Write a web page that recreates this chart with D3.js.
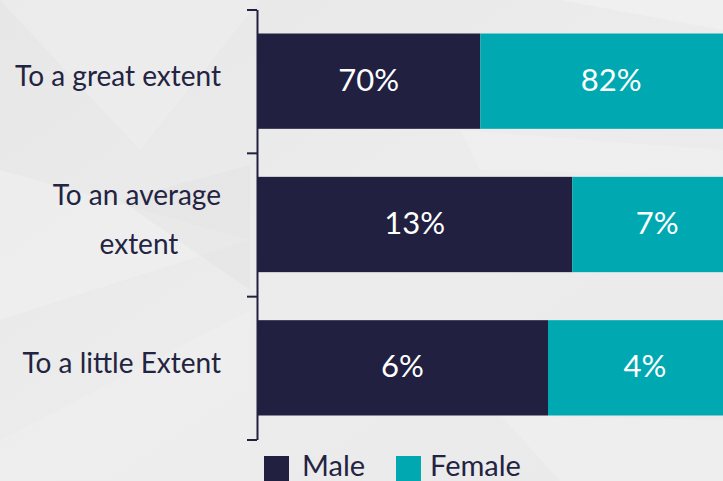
<!DOCTYPE html>
<html><head><meta charset="utf-8">
<script src="https://cdn.jsdelivr.net/npm/d3@7"></script>
<style>html,body{margin:0;padding:0;overflow:hidden;background:#ebebeb}</style>
</head><body><svg id="c" width="723" height="481"></svg>
<script>
const categories = ["To a great extent", "To an average extent", "To a little Extent"];
const categoryLines = [["To a great extent"], ["To an average", "extent"], ["To a little Extent"]];
const seriesNames = ["Male", "Female"];
const male = [70, 13, 6];
const female = [82, 7, 4];
const colors = ["#212041", "#00a9b2"];

const svg = d3.select("#c");
const W = 723, H = 481;

// background
const defs = svg.append("defs");
const g1 = defs.append("linearGradient").attr("id","bg").attr("x1",0).attr("y1",0).attr("x2",1).attr("y2",1);
g1.append("stop").attr("offset","0").attr("stop-color","#e7e7e7");
g1.append("stop").attr("offset","0.5").attr("stop-color","#ececec");
g1.append("stop").attr("offset","1").attr("stop-color","#eaeaea");
svg.append("rect").attr("width",W).attr("height",H).attr("fill","url(#bg)");
const shards = [
  {p:[[0,0],[260,0],[140,150]], f:"#efefef", o:0.6},
  {p:[[0,170],[250,240],[0,320]], f:"#f1f1f1", o:0.5},
  {p:[[120,200],[250,165],[250,290]], f:"#e2e2e2", o:0.4},
  {p:[[0,440],[250,310],[250,481],[0,481]], f:"#efefef", o:0.5},
  {p:[[560,0],[723,0],[723,30]], f:"#f4f4f4", o:0.6},
  {p:[[460,130],[723,150],[723,175],[480,170]], f:"#f1f1f1", o:0.5},
  {p:[[500,415],[723,420],[723,481],[560,481]], f:"#f1f1f1", o:0.5}
];
svg.append("g").selectAll("polygon").data(shards).join("polygon")
  .attr("points", d => d.p.map(q => q.join(",")).join(" "))
  .attr("fill", d => d.f).attr("opacity", d => d.o);

const x0 = 257, totalW = 485;
const x = d3.scaleLinear().domain([0, 1]).range([x0, x0 + totalW]);
const y = d3.scaleBand().domain(categories).range([9.5, 439.5]).paddingInner(0.335).paddingOuter(0.1675);

const data = categories.map((c, i) => {
  const t = male[i] + female[i];
  return [
    {cat: c, s: 0, v: male[i], a: 0, b: male[i] / t},
    {cat: c, s: 1, v: female[i], a: male[i] / t, b: 1}
  ];
}).flat();

const bars = svg.append("g");
bars.selectAll("rect").data(data).join("rect")
  .attr("x", d => x(d.a)).attr("y", d => y(d.cat))
  .attr("width", d => x(d.b) - x(d.a)).attr("height", y.bandwidth())
  .attr("fill", d => colors[d.s]);
bars.selectAll("text").data(data).join("text")
  .attr("x", d => (x(d.a) + x(d.b)) / 2)
  .attr("y", d => y(d.cat) + y.bandwidth() / 2 + 9.5)
  .attr("text-anchor", "middle")
  .attr("fill", "#ffffff").attr("font-family", "Lato, 'Noto Sans', sans-serif")
  .attr("font-size", 31).text(d => d.v + "%");

// axis with ticks at band boundaries
const idx = d3.scaleLinear().domain([0, categories.length]).range(y.range());
svg.append("g").attr("transform", `translate(${x0},0)`)
  .call(d3.axisLeft(idx).tickValues(d3.range(categories.length + 1)).tickSize(10).tickSizeOuter(0).tickFormat(""))
  .call(g => g.selectAll("path,line").attr("stroke", "#212041").attr("stroke-width", 2));

// category labels
const lab = svg.append("g").attr("font-family", "Lato, 'Noto Sans', sans-serif").attr("font-size", 28).attr("fill", "#232342");
categories.forEach((c, i) => {
  const lines = categoryLines[i];
  const cy = y(c) + y.bandwidth() / 2;
  const lh = 49;
  lines.forEach((ln, j) => {
    const yy = cy + (j - (lines.length - 1) / 2) * lh + 5;
    lab.append("text")
      .attr("x", lines.length > 1 && j > 0 ? 139 : 221)
      .attr("text-anchor", lines.length > 1 && j > 0 ? "middle" : "end")
      .attr("y", yy).text(ln);
  });
});

// legend
const legX = [264, 396];
const legT = [302, 430];
const leg = svg.append("g").attr("font-family", "Lato, 'Noto Sans', sans-serif").attr("font-size", 29).attr("fill", "#232342");
seriesNames.forEach((s, i) => {
  leg.append("rect").attr("x", legX[i]).attr("y", 456).attr("width", 25).attr("height", 25).attr("fill", colors[i]);
  leg.append("text").attr("x", legT[i]).attr("y", 476).text(s);
});
</script></body></html>
